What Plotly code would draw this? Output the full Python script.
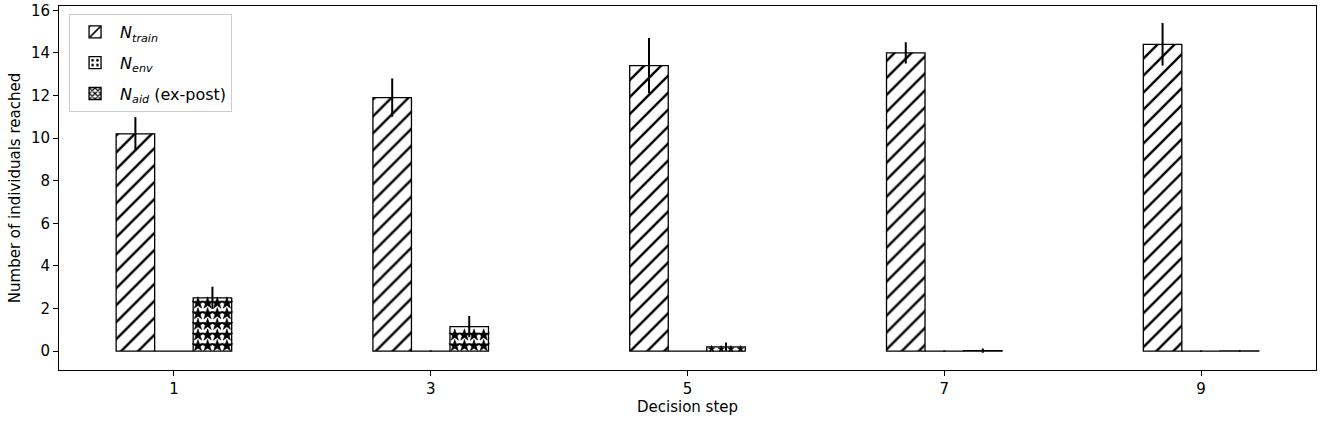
import plotly.graph_objects as go

steps = [1, 3, 5, 7, 9]
train = [10.2, 11.9, 13.4, 14.0, 14.4]
train_err = [0.78, 0.9, 1.3, 0.5, 1.0]
env = [0, 0, 0, 0, 0]
env_err = [0, 0.03, 0, 0.03, 0.03]
aid = [2.5, 1.15, 0.2, 0.02, 0.01]
aid_err = [0.52, 0.5, 0.2, 0.1, 0.03]

FONT = "DejaVu Sans"
W = 0.3

def err(vals):
    return dict(type="data", array=vals, visible=True, color="black", thickness=2, width=0)

fig = go.Figure()
fig.add_trace(go.Bar(
    x=steps, y=train, width=W, offset=-1.5 * W, name="<i>N</i><sub><i>train</i></sub>",
    legendgroup="a",
    marker=dict(color="white", line=dict(color="black", width=1.3),
                pattern=dict(shape="/", fgcolor="black", fgopacity=1, bgcolor="white", size=12, solidity=0.2)),
    error_y=err(train_err)))
fig.add_trace(go.Bar(
    x=steps, y=env, width=W, offset=-0.5 * W, name="<i>N</i><sub><i>env</i></sub>",
    legendgroup="b",
    marker=dict(color="white", line=dict(color="black", width=1.3),
                pattern=dict(shape=".", fgcolor="black", fgopacity=1, bgcolor="white", size=6, solidity=0.25)),
    error_y=err(env_err)))
# aid bars: white fill, star texture overlaid below
fig.add_trace(go.Bar(
    x=steps, y=aid, width=W, offset=0.5 * W, name="<i>N</i><sub><i>aid</i></sub> (ex-post)",
    legendgroup="c", showlegend=False,
    marker=dict(color="white", line=dict(color="black", width=1.3)),
    error_y=err(aid_err)))

# star texture derived from the aid values (drawn within each bar)
sx, sy, ss = [], [], []
ncols = 4
for xv, v in zip(steps, aid):
    left = xv + 0.5 * W
    yv = 0.25
    if 0.1 <= v < 0.37:
        for i in range(ncols):
            sx.append(left + W * (i + 0.5) / ncols)
            sy.append(v / 2)
            ss.append(5)
    while yv + 0.12 <= v:
        for i in range(ncols):
            sx.append(left + W * (i + 0.5) / ncols)
            sy.append(yv)
            ss.append(9)
        yv += 0.5
fig.add_trace(go.Scatter(x=sx, y=sy, mode="markers", showlegend=False, hoverinfo="skip",
                         legendgroup="c",
                         marker=dict(symbol="star", size=ss, color="black", opacity=1,
                                     line=dict(color="black", width=0.5))))
# legend entry for the aid series
fig.add_trace(go.Bar(
    x=steps, y=[None] * len(steps), width=W, offset=0.5 * W,
    name="<i>N</i><sub><i>aid</i></sub> (ex-post)", legendgroup="c", hoverinfo="skip",
    marker=dict(color="white", line=dict(color="black", width=1.3),
                pattern=dict(shape="x", fgcolor="black", fgopacity=1, bgcolor="white", size=5, solidity=0.5))))

axis_common = dict(showline=True, linecolor="black", linewidth=1, mirror=True,
                   ticks="outside", ticklen=5, tickcolor="black", showgrid=False, zeroline=False,
                   automargin=False,
                   tickfont=dict(family=FONT, size=15, color="black"))

fig.update_layout(
    width=1325, height=423,
    margin=dict(l=58.5, r=8.5, t=6, b=53, autoexpand=False),
    plot_bgcolor="white", paper_bgcolor="white",
    barmode="overlay",
    font=dict(family=FONT, size=15, color="black"),
    xaxis=dict(range=[0.105, 9.895], tickvals=steps, ticktext=[str(s) for s in steps],
               title=dict(text="Decision step", font=dict(family=FONT, size=15), standoff=4),
               **axis_common),
    yaxis=dict(range=[-0.89, 16.2], tickvals=list(range(0, 17, 2)),
               title=dict(text="Number of individuals reached", font=dict(family=FONT, size=15), standoff=6),
               **axis_common),
    legend=dict(x=0.008, y=0.978, xanchor="left", yanchor="top",
                bgcolor="rgba(255,255,255,0.8)", bordercolor="#cccccc", borderwidth=1,
                font=dict(family=FONT, size=16), tracegroupgap=7, itemwidth=40),
    showlegend=True,
)

fig.write_html("out.html", config={"displayModeBar": False},
               post_script="document.body.style.margin='0';document.body.style.overflow='hidden';")
